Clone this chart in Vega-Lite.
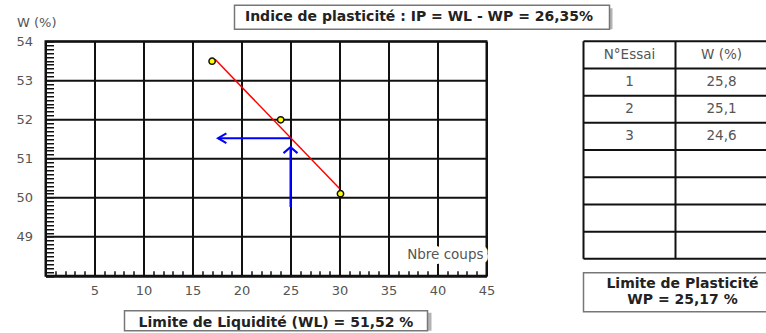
{
  "$schema": "https://vega.github.io/schema/vega-lite/v6.json",
  "background": "white",
  "padding": {"left": 14.5, "top": 4.25, "right": 0, "bottom": 0},
  "config": {"font": "DejaVu Sans", "view": {"stroke": null}},
  "datasets": {
    "essais": [{"n": 17.0, "w": 53.49}, {"n": 24.0, "w": 51.99}, {"n": 30.1, "w": 50.1}],
    "droite": [{"n": 17.3, "w": 53.54}, {"n": 30.0, "w": 50.23}],
    "fleches": [{"n": 25, "w": 51.52, "n2": 17.6, "w2": 51.52}, {"n": 25, "w": 49.76, "n2": 25, "w2": 51.29}],
    "pointes": [{"n": 17.6, "w": 51.52, "dir": "left"}, {"n": 25, "w": 51.29, "dir": "up"}],
    "cellules": [
      {"row": "h", "col": "A", "txt": "N°Essai"}, {"row": "h", "col": "B", "txt": "W (%)"},
      {"row": "1", "col": "A", "txt": "1"}, {"row": "1", "col": "B", "txt": "25,8"},
      {"row": "2", "col": "A", "txt": "2"}, {"row": "2", "col": "B", "txt": "25,1"},
      {"row": "3", "col": "A", "txt": "3"}, {"row": "3", "col": "B", "txt": "24,6"}
    ],
    "lignes": [{"row": "h"}, {"row": "1"}, {"row": "2"}, {"row": "3"}, {"row": "4"}, {"row": "5"}, {"row": "6"}, {"row": "7"}],
    "colonnes": [{"col": "A"}, {"col": "B"}]
  },
  "bounds": "flush",
  "spacing": 36,
  "vconcat": [
    {
      "bounds": "flush",
      "spacing": 0,
      "hconcat": [
        {"width": 189, "height": 24, "data": {"values": []}, "mark": "point"},
        {
          "width": 375,
          "height": 24,
          "data": {"values": [{"t": "Indice de plasticité : IP = WL - WP = 26,35%"}]},
          "layer": [
            {"mark": {"type": "rect", "fill": "#b4b4b4", "xOffset": 3, "yOffset": 3}},
            {"mark": {"type": "rect", "fill": "white", "stroke": "#777777", "strokeWidth": 1.5}},
            {"mark": {"type": "text", "fontWeight": "bold", "fontSize": 14, "color": "#222222", "dx": -3}, "encoding": {"text": {"field": "t"}}}
          ]
        }
      ]
    },
    {
      "bounds": "flush",
      "spacing": 538,
      "hconcat": [
        {
          "bounds": "flush",
          "spacing": 34.5,
          "vconcat": [
            {
              "width": 441,
              "height": 234.5,
              "view": {"stroke": "#111111", "strokeWidth": 2},
              "layer": [
                {
                  "data": {"name": "droite"},
                  "mark": {"type": "line", "color": "#ff0000", "strokeWidth": 1.5},
                  "encoding": {
                    "x": {
                      "field": "n", "type": "quantitative",
                      "scale": {"domain": [0, 45], "nice": false, "zero": false},
                      "axis": {
                        "title": null, "domain": false, "tickCount": 45,
                        "tickSize": -5, "tickColor": "#111111", "tickWidth": 1.5,
                        "grid": true, "gridColor": "#111111", "gridWidth": 2,
                        "gridOpacity": {"condition": {"test": "datum.value % 5 === 0", "value": 1}, "value": 0},
                        "labelExpr": "datum.value % 5 === 0 && datum.value > 0 ? datum.label : ''",
                        "labelOverlap": false, "labelFlush": false, "labelPadding": 14,
                        "labelFontSize": 13, "labelColor": "#555555", "labelFont": "DejaVu Sans"
                      }
                    },
                    "y": {
                      "field": "w", "type": "quantitative",
                      "scale": {"domain": [48, 54], "nice": false, "zero": false},
                      "axis": {
                        "title": "W (%)", "titleAngle": 0, "titleAlign": "left", "titleBaseline": "middle",
                        "titleX": -29, "titleY": -19, "titleFont": "DejaVu Sans", "titleFontWeight": "normal",
                        "titleFontSize": 13, "titleColor": "#555555",
                        "domain": false, "tickCount": 60,
                        "tickSize": -8, "tickColor": "#111111", "tickWidth": 1.5,
                        "grid": true, "gridColor": "#111111", "gridWidth": 2,
                        "gridOpacity": {"condition": {"test": "abs(datum.value - round(datum.value)) < 0.001", "value": 1}, "value": 0},
                        "labelExpr": "abs(datum.value - round(datum.value)) < 0.001 && datum.value > 48.5 ? format(datum.value, '.0f') : ''",
                        "labelOverlap": false, "labelFlush": false, "labelPadding": 21,
                        "labelFontSize": 13, "labelColor": "#555555", "labelFont": "DejaVu Sans"
                      }
                    }
                  }
                },
                {
                  "data": {"name": "fleches"},
                  "mark": {"type": "rule", "color": "#0000ff", "strokeWidth": 2},
                  "encoding": {
                    "x": {"field": "n", "type": "quantitative"},
                    "y": {"field": "w", "type": "quantitative"},
                    "x2": {"field": "n2"},
                    "y2": {"field": "w2"}
                  }
                },
                {
                  "data": {"name": "pointes"},
                  "mark": {"type": "point", "filled": false, "color": "#0000ff", "strokeWidth": 2, "size": 196, "opacity": 1},
                  "encoding": {
                    "x": {"field": "n", "type": "quantitative"},
                    "y": {"field": "w", "type": "quantitative"},
                    "shape": {"field": "dir", "type": "nominal", "legend": null,
                      "scale": {"domain": ["left", "up"], "range": ["M1.2,-0.7L0,0L1.2,0.7", "M-1,0.85L0,0L1,0.85"]}}
                  }
                },
                {
                  "data": {"name": "essais"},
                  "mark": {"type": "point", "filled": true, "fill": "#ffff00", "stroke": "#111111", "strokeWidth": 1.5, "size": 40, "opacity": 1},
                  "encoding": {
                    "x": {"field": "n", "type": "quantitative"},
                    "y": {"field": "w", "type": "quantitative"}
                  }
                },
                {
                  "data": {"values": [{"t": "Nbre coups"}]},
                  "mark": {"type": "text", "align": "right", "baseline": "middle", "dx": -3, "fontSize": 13.5, "fill": "white", "stroke": "white", "strokeWidth": 10, "strokeJoin": "round"},
                  "encoding": {
                    "x": {"datum": 45, "type": "quantitative"},
                    "y": {"datum": 48.52, "type": "quantitative"},
                    "text": {"field": "t"}
                  }
                },
                {
                  "data": {"values": [{"t": "Nbre coups"}]},
                  "mark": {"type": "text", "align": "right", "baseline": "middle", "dx": -3, "fontSize": 13.5, "fill": "#555555"},
                  "encoding": {
                    "x": {"datum": 45, "type": "quantitative"},
                    "y": {"datum": 48.52, "type": "quantitative"},
                    "text": {"field": "t"}
                  }
                }
              ]
            },
            {
              "bounds": "flush",
              "spacing": 0,
              "hconcat": [
                {"width": 79, "height": 20, "data": {"values": []}, "mark": "point"},
                {
                  "width": 303,
                  "height": 20,
                  "data": {"values": [{"t": "Limite de Liquidité (WL) = 51,52 %"}]},
                  "layer": [
                    {"mark": {"type": "rect", "fill": "#b4b4b4", "xOffset": 4, "yOffset": 2}},
                    {"mark": {"type": "rect", "fill": "white", "stroke": "#777777", "strokeWidth": 1.5}},
                    {"mark": {"type": "text", "fontWeight": "bold", "fontSize": 14, "color": "#222222", "dy": 2}, "encoding": {"text": {"field": "t"}}}
                  ]
                }
              ]
            }
          ]
        },
        {
          "bounds": "flush",
          "spacing": 13.4,
          "vconcat": [
            {
              "width": 184,
              "height": 217.6,
              "layer": [
                {"data": {"name": "cellules"}, "mark": {"type": "text", "fontSize": 13.5, "color": "#555555"},
                  "encoding": {
                    "x": {"field": "col", "type": "nominal", "axis": null, "scale": {"type": "band", "domain": ["A", "B"], "paddingInner": 0, "paddingOuter": 0}},
                    "y": {"field": "row", "type": "nominal", "axis": null, "scale": {"type": "band", "domain": ["h", "1", "2", "3", "4", "5", "6", "7"], "paddingInner": 0, "paddingOuter": 0}},
                    "text": {"field": "txt"}
                  }},
                {"data": {"name": "lignes"}, "mark": {"type": "rule", "color": "#111111", "strokeWidth": 2},
                  "encoding": {"y": {"field": "row", "type": "nominal", "bandPosition": 1, "axis": null}}},
                {"data": {"values": [{"row": "h"}]}, "mark": {"type": "rule", "color": "#111111", "strokeWidth": 2},
                  "encoding": {"y": {"field": "row", "type": "nominal", "bandPosition": 0, "axis": null}}},
                {"data": {"name": "colonnes"}, "mark": {"type": "rule", "color": "#111111", "strokeWidth": 2},
                  "encoding": {"x": {"field": "col", "type": "nominal", "bandPosition": 0, "axis": null}}}
              ]
            },
            {
              "width": 184,
              "height": 39,
              "data": {"values": [{"t": "Limite de Plasticité\nWP = 25,17 %"}]},
              "layer": [
                {"mark": {"type": "rect", "fill": "#b4b4b4", "yOffset": 3}},
                {"mark": {"type": "rect", "fill": "white", "stroke": "#777777", "strokeWidth": 1.5}},
                {"mark": {"type": "text", "fontWeight": "bold", "fontSize": 14, "color": "#222222", "lineBreak": "\n", "lineHeight": 16, "dx": 7, "dy": -8}, "encoding": {"text": {"field": "t"}}}
              ]
            }
          ]
        }
      ]
    }
  ]
}
